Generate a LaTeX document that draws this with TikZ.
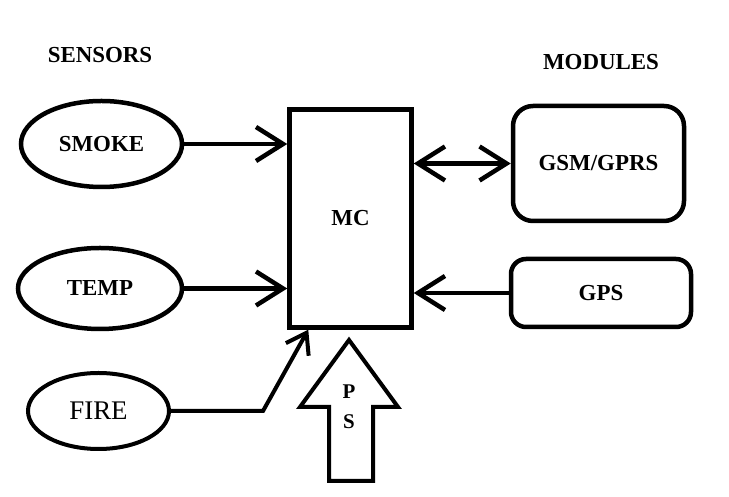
\documentclass[tikz,border=0pt]{standalone}
\usepackage{fontspec}
\setmainfont{Liberation Serif}
\usetikzlibrary{shapes.geometric,arrows.meta}
\tikzset{
  lbl/.style={font=\bfseries\fontsize{23}{27}\selectfont},
  sensor/.style={ellipse,draw,lbl},
  module/.style={rectangle,draw,rounded corners=20bp,lbl},
  barb/.style={-{Straight Barb[length=27bp,width=34bp]}},
  barbboth/.style={{Straight Barb[length=27bp,width=34bp]}-{Straight Barb[length=27bp,width=34bp]}},
  barbsmall/.style={-{Straight Barb[length=19bp,width=26bp]}}
}
\begin{document}
\begin{tikzpicture}[x=1bp,y=1bp,inner sep=0pt,line width=4.5bp]
\useasboundingbox(0,0) rectangle (729,497);
% headings
\node[lbl] (sensors) at (100,442) {SENSORS};
\node[lbl] (modules) at (601,435) {MODULES};
% controller
\node[draw,lbl,minimum width=122bp,minimum height=218bp] (mc) at (350.5,278.5) {MC};
% sensors
\node[sensor,minimum width=161bp,minimum height=86bp] (smoke) at (101.5,353) {SMOKE};
\node[sensor,minimum width=164bp,minimum height=81bp] (temp) at (100,208.5) {TEMP};
\node[ellipse,draw,line width=4bp,font=\fontsize{27}{30}\selectfont,minimum width=141bp,minimum height=76bp] (fire) at (98.5,86) {FIRE};
% modules
\node[module,minimum width=171bp,minimum height=115bp] (gsm) at (598.5,333.5) {GSM/GPRS};
\node[module,rounded corners=15bp,minimum width=180bp,minimum height=68bp] (gps) at (601,204) {GPS};
% connectors
\draw[barb] (smoke) -- (smoke -| mc.west);
\draw[barb] (temp.east) -- (temp.east -| mc.west);
\coordinate (bend) at (263,86);
\coordinate (firein) at ([xshift=21bp]mc.south west);
\draw[barbsmall,line width=4bp] (fire.east) -- (bend) -- (firein);
\draw[barbboth] (gsm.west -| mc.east) -- (gsm.west);
\draw[barb] (gps.west) -- (gps.west -| mc.east);
% power supply
\draw[line width=4bp,line join=miter] (349,157) -- (398,90) -- (373,90) -- (373,16) -- (329,16) -- (329,90) -- (300,90) -- cycle;
\node[lbl,font=\bfseries\fontsize{21}{24}\selectfont] (p) at (349,105) {P};
\node[lbl,font=\bfseries\fontsize{21}{24}\selectfont] (s) at (349,75) {S};
\end{tikzpicture}
\end{document}
